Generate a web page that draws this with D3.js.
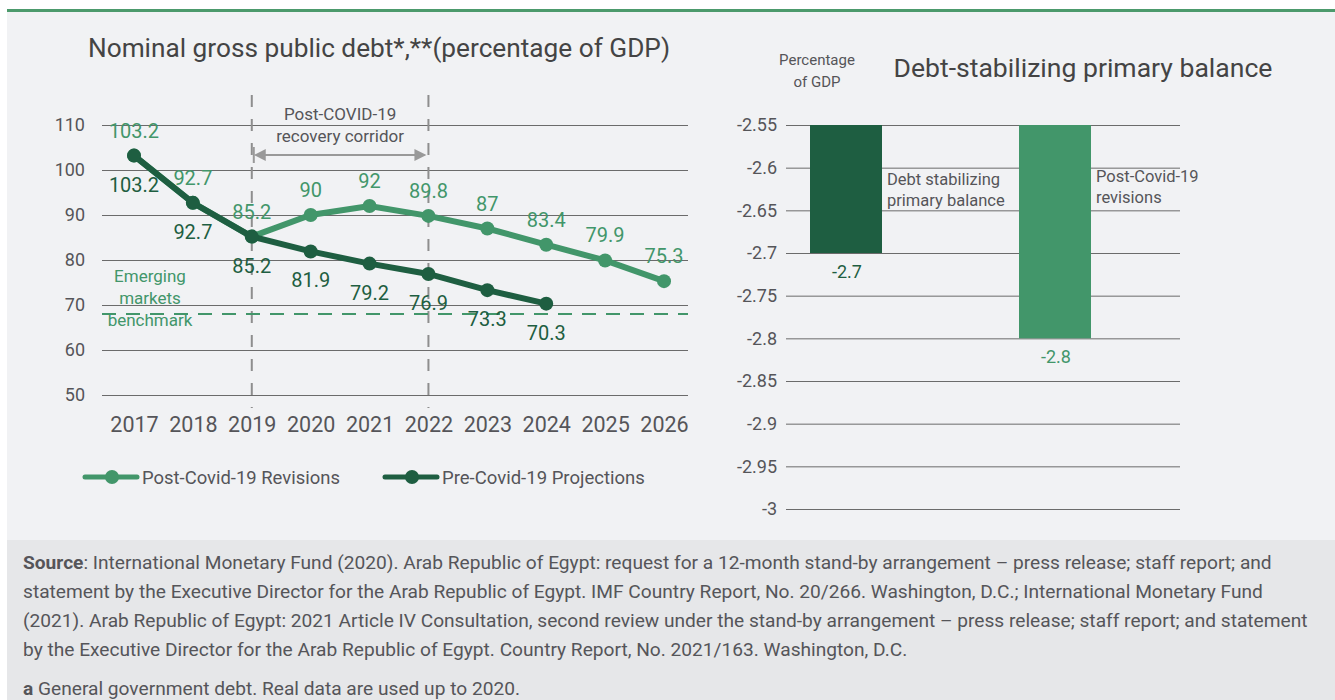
<!DOCTYPE html>
<html><head><meta charset="utf-8">
<script src="https://cdn.jsdelivr.net/npm/d3@7"></script>
<style>
body{margin:0;background:#fff;}
svg text{font-family:"Roboto","Liberation Sans",sans-serif;}
</style></head>
<body><svg id="c" width="1335" height="700"></svg>
<script>
const years = ["2017","2018","2019","2020","2021","2022","2023","2024","2025","2026"];
const postCovid = [103.2, 92.7, 85.2, 90, 92, 89.8, 87, 83.4, 79.9, 75.3];
const preCovid = [103.2, 92.7, 85.2, 81.9, 79.2, 76.9, 73.3, 70.3, null, null];
const debtTicks = [50, 60, 70, 80, 90, 100, 110];
const benchmark = 68;
const corridorYears = ["2019", "2022"];
const barCats = ["Debt stabilizing primary balance", "Post-Covid-19 revisions"];
const barValues = [-2.7, -2.8];
const balanceTicks = [-2.55, -2.6, -2.65, -2.7, -2.75, -2.8, -2.85, -2.9, -2.95, -3];

const DARK = "#1e5e41", LIGHT = "#42966a", GRID = "#6b6b6b", TXT = "#555559";
const svg = d3.select("#c");

// fit a text element to a target width by adjusting its font size
function fitWidth(sel, w){
  const n = sel.node(); const len = n.getComputedTextLength();
  const fs = parseFloat(sel.attr("font-size"));
  sel.attr("font-size", (fs * w / len).toFixed(2));
}

// backgrounds
svg.append("rect").attr("x",7).attr("y",12).attr("width",1328).attr("height",528).attr("fill","#f1f2f4");
svg.append("rect").attr("x",7).attr("y",9).attr("width",1328).attr("height",3).attr("fill","#4c9a6c");
svg.append("rect").attr("x",7).attr("y",540).attr("width",1328).attr("height",160).attr("fill","#e6e7e9");

// ---------- Left chart ----------
const x = d3.scalePoint().domain(years).range([134, 664]);
const y = d3.scaleLinear().domain([50, 110]).range([395, 125]);
const gL = svg.append("g");

const t1 = gL.append("text").attr("x",379).attr("y",57).attr("text-anchor","middle").attr("font-size",27).attr("fill","#444")
  .text("Nominal gross public debt*,**(percentage of GDP)");
fitWidth(t1, 582);

const yAxisL = d3.axisLeft(y).tickValues(debtTicks).tickSize(-(688-102)).tickPadding(17);
const ga = gL.append("g").attr("transform","translate(102,0)").call(yAxisL);
ga.select(".domain").remove();
ga.selectAll(".tick line").attr("stroke",GRID).attr("stroke-width",1);
ga.selectAll(".tick text").attr("font-size",18).attr("fill",TXT);

const xAxisL = d3.axisBottom(x).tickSize(0).tickPadding(12);
const gx = gL.append("g").attr("transform","translate(0,405)").call(xAxisL);
gx.select(".domain").remove();
gx.selectAll(".tick text").attr("font-size",21.5).attr("fill",TXT);

// corridor dashed verticals
corridorYears.forEach(yr => {
  gL.append("line").attr("x1",x(yr)).attr("x2",x(yr)).attr("y1",95).attr("y2",408)
    .attr("stroke","#8e8e8e").attr("stroke-width",2).attr("stroke-dasharray","12,12");
});
// arrow
const ay = 155, ax1 = x(corridorYears[0]), ax2 = x(corridorYears[1]);
gL.append("line").attr("x1",ax1+4).attr("x2",ax2-4).attr("y1",ay).attr("y2",ay).attr("stroke","#999").attr("stroke-width",2);
gL.append("path").attr("d",`M${ax1+2},${ay}L${ax1+14},${ay-6}L${ax1+14},${ay+6}Z`).attr("fill","#999");
gL.append("path").attr("d",`M${ax2-2},${ay}L${ax2-14},${ay-6}L${ax2-14},${ay+6}Z`).attr("fill","#999");
gL.append("line").attr("x1",ax1+2).attr("x2",ax1+2).attr("y1",ay-8).attr("y2",ay+8).attr("stroke","#999").attr("stroke-width",2);
gL.append("text").attr("x",(ax1+ax2)/2).attr("y",120).attr("text-anchor","middle").attr("font-size",17).attr("fill",TXT).text("Post-COVID-19");
gL.append("text").attr("x",(ax1+ax2)/2).attr("y",142).attr("text-anchor","middle").attr("font-size",17).attr("fill",TXT).text("recovery corridor");

// benchmark
gL.append("line").attr("x1",102).attr("x2",688).attr("y1",y(benchmark)).attr("y2",y(benchmark))
  .attr("stroke",LIGHT).attr("stroke-width",2).attr("stroke-dasharray","14,10");
["Emerging","markets","benchmark"].forEach((t,i)=>{
  gL.append("text").attr("x",150).attr("y",282+i*22).attr("text-anchor","middle").attr("font-size",17).attr("fill",LIGHT).text(t);
});

const line = d3.line().defined(d=>d.v!=null).x(d=>x(d.k)).y(d=>y(d.v));
const postData = years.map((k,i)=>({k, v: postCovid[i]}));
const preData = years.map((k,i)=>({k, v: preCovid[i]})).filter(d=>d.v!=null);

gL.append("path").datum(postData).attr("d",line).attr("fill","none").attr("stroke",LIGHT).attr("stroke-width",6);
gL.selectAll(".pc").data(postData).enter().append("circle").attr("cx",d=>x(d.k)).attr("cy",d=>y(d.v)).attr("r",7).attr("fill",LIGHT);
gL.append("path").datum(preData).attr("d",line).attr("fill","none").attr("stroke",DARK).attr("stroke-width",6);
gL.selectAll(".pr").data(preData).enter().append("circle").attr("cx",d=>x(d.k)).attr("cy",d=>y(d.v)).attr("r",7).attr("fill",DARK);

gL.selectAll(".pl").data(postData).enter().append("text").attr("x",d=>x(d.k)).attr("y",d=>y(d.v)-18)
  .attr("text-anchor","middle").attr("font-size",20).attr("fill",LIGHT).text(d=>d.v);
gL.selectAll(".prl").data(preData).enter().append("text").attr("x",d=>x(d.k)).attr("y",d=>y(d.v)+36)
  .attr("text-anchor","middle").attr("font-size",20).attr("fill",DARK).text(d=>d.v);

// legend
const leg = [{t:"Post-Covid-19 Revisions", c:LIGHT, x:85, w:198},{t:"Pre-Covid-19 Projections", c:DARK, x:385, w:203}];
leg.forEach(l=>{
  gL.append("line").attr("x1",l.x).attr("x2",l.x+52).attr("y1",477).attr("y2",477).attr("stroke",l.c).attr("stroke-width",5).attr("stroke-linecap","round");
  gL.append("circle").attr("cx",l.x+27).attr("cy",477).attr("r",7).attr("fill",l.c);
  const tt = gL.append("text").attr("x",l.x+57).attr("y",484).attr("font-size",20).attr("fill",TXT).text(l.t);
  fitWidth(tt, l.w);
});

// ---------- Right chart ----------
const xb = d3.scalePoint().domain(barCats).range([846, 1055]);
const yb = d3.scaleLinear().domain([-3, -2.55]).range([509, 125]);
const gR = svg.append("g");
const t2 = gR.append("text").attr("x",1083).attr("y",77).attr("text-anchor","middle").attr("font-size",27).attr("fill","#444").text("Debt-stabilizing primary balance");
fitWidth(t2, 379);
gR.append("text").attr("x",817).attr("y",65).attr("text-anchor","middle").attr("font-size",15).attr("fill",TXT).text("Percentage");
gR.append("text").attr("x",817).attr("y",87).attr("text-anchor","middle").attr("font-size",15).attr("fill",TXT).text("of GDP");

const yAxisR = d3.axisLeft(yb).tickValues(balanceTicks).tickSize(-(1180-786)).tickPadding(9).tickFormat(d=>String(d));
const gb = gR.append("g").attr("transform","translate(786,0)").call(yAxisR);
gb.select(".domain").remove();
gb.selectAll(".tick line").attr("stroke",GRID).attr("stroke-width",1);
gb.selectAll(".tick text").attr("font-size",18).attr("fill",TXT);

const barColors = [DARK, LIGHT];
const bw = 72;
gR.selectAll(".bar").data(barValues).enter().append("rect")
  .attr("x",(d,i)=>xb(barCats[i])-bw/2).attr("width",bw)
  .attr("y",yb(-2.55)).attr("height",d=>yb(d)-yb(-2.55)).attr("fill",(d,i)=>barColors[i]);
gR.selectAll(".bl").data(barValues).enter().append("text")
  .attr("x",(d,i)=>xb(barCats[i])+1).attr("y",d=>yb(d)+25).attr("text-anchor","middle")
  .attr("font-size",18).attr("fill",(d,i)=>barColors[i]).text(d=>d);

const annots = [["Debt stabilizing","primary balance"],["Post-Covid-19","revisions"]];
annots.forEach((a,i)=>{
  const ax = xb(barCats[i]) + bw/2 + 5;
  const y0 = i===0 ? 185 : 182;
  a.forEach((t,j)=>gR.append("text").attr("x",ax).attr("y",y0+j*21).attr("font-size",16.5).attr("fill",TXT).text(t));
});

// ---------- Footer ----------
const foot = [
  [["Source",true],[": International Monetary Fund (2020). Arab Republic of Egypt: request for a 12-month stand-by arrangement – press release; staff report; and",false]],
  [["statement by the Executive Director for the Arab Republic of Egypt. IMF Country Report, No. 20/266. Washington, D.C.; International Monetary Fund",false]],
  [["(2021). Arab Republic of Egypt: 2021 Article IV Consultation, second review under the stand-by arrangement – press release; staff report; and statement",false]],
  [["by the Executive Director for the Arab Republic of Egypt. Country Report, No. 2021/163. Washington, D.C.",false]],
];
const fy = [569, 598, 627, 656];
const fLines = [];
foot.forEach((ln,i)=>{
  const t = svg.append("text").attr("x",23).attr("y",fy[i]).attr("font-size",17).attr("fill",TXT);
  ln.forEach(([s,b])=>t.append("tspan").attr("font-weight",b?"bold":"normal").text(s));
  fLines.push(t);
});
// scale footer so line 3 spans its reference width
const l3 = fLines[2].node().getComputedTextLength();
const fs = (17 * 1285 / l3).toFixed(2);
fLines.forEach(t=>t.attr("font-size",fs));
const ft = svg.append("text").attr("x",23).attr("y",695).attr("font-size",fs).attr("fill",TXT);
ft.append("tspan").attr("font-weight","bold").text("a");
ft.append("tspan").text(" General government debt. Real data are used up to 2020.");
</script></body></html>
